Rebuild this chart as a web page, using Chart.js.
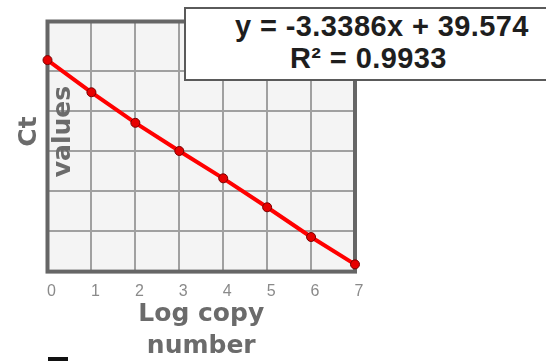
<!DOCTYPE html>
<html>
<head>
<meta charset="utf-8">
<script src="https://cdn.jsdelivr.net/npm/chart.js@4/dist/chart.umd.min.js"></script>
<style>
  html, body { margin: 0; padding: 0; background: #ffffff; }
  #wrap { position: relative; width: 546px; height: 361px; overflow: hidden; background: #ffffff; }
  #c { position: absolute; left: 0; top: 0; }
  #eqbox {
    position: absolute; left: 184px; top: 7px; width: 380px; height: 70px;
    background: #ffffff; border: 2px solid #5a5a5a; box-sizing: content-box;
  }
  .eq {
    position: absolute; font-family: "Liberation Sans", Arial, sans-serif; font-weight: bold;
    font-size: 29px; line-height: 32px; color: #1e1e1e; white-space: nowrap; letter-spacing: 0.4px;
  }
  #cut { position: absolute; left: 48px; top: 357px; width: 20px; height: 6px; background: #111; }
</style>
</head>
<body>
<div id="wrap">
  <canvas id="c" width="546" height="361"></canvas>
  <div id="eqbox"></div>
  <div class="eq" id="eq1" style="left:235px; top:10px;"></div>
  <div class="eq" id="eq2" style="left:290px; top:42px;"></div>
  <div id="cut"></div>
</div>
<script>
// ---- data ----
const xValues = [0, 1, 2, 3, 4, 5, 6, 7];
const ctValues = [41.3, 37.3, 33.5, 30.0, 26.6, 23.0, 19.3, 15.9];
const xTickLabels = ['0', '1', '2', '3', '4', '5', '6', '7'];
const yGridValues = [15, 20, 25, 30, 35, 40];
const yRange = [15, 46.1];
const xRange = [0, 7];
const xTitle = ['Log copy', 'number'];
const yTitle = ['\u2003\u2009Ct', '\u2003\u2009values'];
const equationText = 'y = -3.3386x + 39.574';
const r2Text = 'R\u00B2 = 0.9933';

document.getElementById('eq1').textContent = equationText;
document.getElementById('eq2').textContent = r2Text;

const framePlugin = {
  id: 'frame',
  beforeDraw(chart) {
    const { ctx, chartArea: a } = chart;
    ctx.save();
    ctx.fillStyle = '#f4f4f4';
    ctx.fillRect(a.left, a.top, a.right - a.left, a.bottom - a.top);
    ctx.restore();
  },
  beforeDatasetsDraw(chart) {
    const { ctx, chartArea: a } = chart;
    ctx.save();
    ctx.strokeStyle = '#666666';
    ctx.lineWidth = 4;
    ctx.strokeRect(a.left, a.top, a.right - a.left, a.bottom - a.top);
    ctx.restore();
  }
};

new Chart(document.getElementById('c'), {
  type: 'scatter',
  data: {
    datasets: [{
      data: xValues.map((x, i) => ({ x: x, y: ctValues[i] })),
      showLine: true,
      borderColor: '#ff0000',
      borderWidth: 4,
      pointRadius: 4.5,
      pointBackgroundColor: '#e60000',
      pointBorderColor: '#7a0000',
      pointBorderWidth: 1,
      clip: false,
      tension: 0
    }]
  },
  options: {
    responsive: false,
    animation: false,
    devicePixelRatio: 1,
    layout: { padding: { top: 21.5, right: 191, left: 0, bottom: 0 } },
    plugins: { legend: { display: false }, tooltip: { enabled: false } },
    scales: {
      x: {
        type: 'linear',
        min: xRange[0], max: xRange[1],
        afterBuildTicks: (s) => { s.ticks = xValues.map(v => ({ value: v })); },
        grid: { color: '#a0a0a0', lineWidth: 2, drawTicks: false },
        border: { display: false },
        ticks: {
          padding: 10.4,
          labelOffset: 4,
          color: '#8a8a8a',
          font: { family: '"Liberation Sans", Arial, sans-serif', size: 16 },
          callback: (v, i) => xTickLabels[i]
        },
        title: {
          display: true,
          text: xTitle,
          color: '#6b6b6b',
          font: { family: '"DejaVu Sans", sans-serif', size: 25, weight: 'bold', lineHeight: 1.28 },
          padding: { top: -13.2, bottom: -1.4 }
        }
      },
      y: {
        type: 'linear',
        min: yRange[0], max: yRange[1],
        afterBuildTicks: (s) => { s.ticks = yGridValues.map(v => ({ value: v })); },
        grid: { color: '#a0a0a0', lineWidth: 2, drawTicks: false },
        border: { display: false },
        ticks: { display: false },
        title: {
          display: true,
          text: yTitle,
          color: '#6b6b6b',
          font: { family: '"DejaVu Sans", sans-serif', size: 25, weight: 'bold', lineHeight: 1.36 },
          padding: { top: 12.4, bottom: -32.9 }
        }
      }
    }
  },
  plugins: [framePlugin]
});
</script>
</body>
</html>
